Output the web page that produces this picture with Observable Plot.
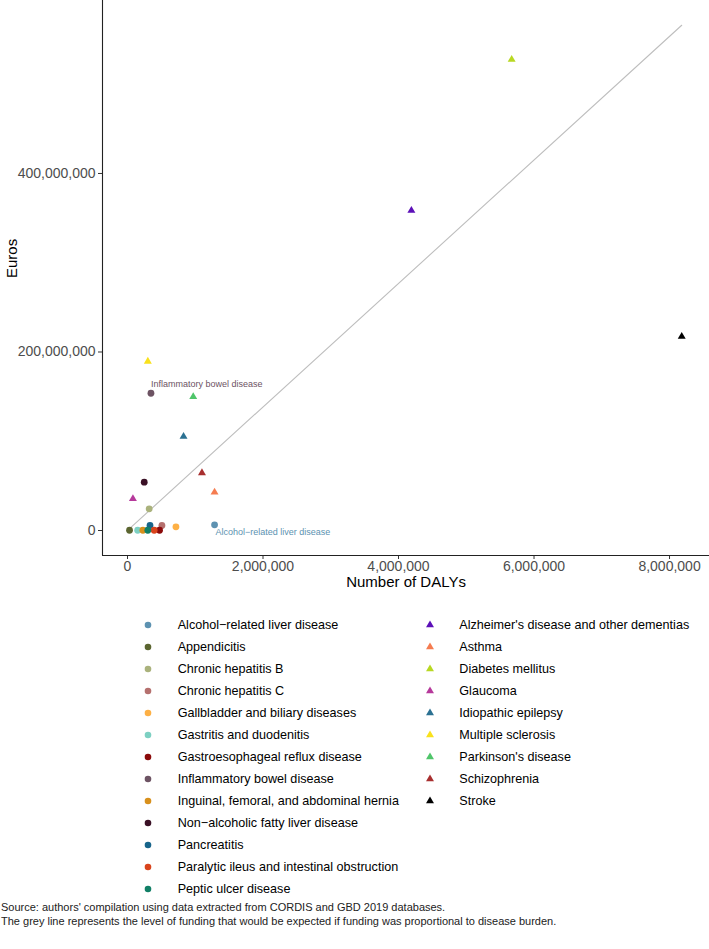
<!DOCTYPE html>
<html>
<head>
<meta charset="utf-8">
<script src="https://cdn.jsdelivr.net/npm/d3@7"></script>
<script src="https://cdn.jsdelivr.net/npm/@observablehq/plot@0.6"></script>
<style>
  html, body { margin: 0; padding: 0; background: #fff; }
  body { font-family: "Liberation Sans", Arial, sans-serif; }
  #wrap { position: relative; width: 709px; height: 949px; overflow: hidden; }
  #chart { position: absolute; left: 0; top: 0; }
  [aria-label="x-axis tick label"], [aria-label="y-axis tick label"] { fill: #4d4d4d; font-size: 14px; }
  [aria-label="x-axis tick"], [aria-label="y-axis tick"] { stroke: #333; }
  .lg-row { position: absolute; height: 22px; line-height: 22px; font-size: 12.6px; color: #000; white-space: nowrap; }
  .lg-sym { position: absolute; top: 0; }
  #caption { position: absolute; left: 1px; top: 900px; font-size: 11px; line-height: 14px; color: #222; white-space: nowrap; }
</style>
</head>
<body>
<div id="wrap">
  <div id="chart"></div>
  <div id="legend"></div>
  <div id="caption">Source: authors' compilation using data extracted from CORDIS and GBD 2019 databases.<br>The grey line represents the level of funding that would be expected if funding was proportional to disease burden.</div>
</div>
<script>
// ---- Data: diseases shown as circles ----
const circleNames = [
  "Alcohol\u2212related liver disease",
  "Appendicitis",
  "Chronic hepatitis B",
  "Chronic hepatitis C",
  "Gallbladder and biliary diseases",
  "Gastritis and duodenitis",
  "Gastroesophageal reflux disease",
  "Inflammatory bowel disease",
  "Inguinal, femoral, and abdominal hernia",
  "Non\u2212alcoholic fatty liver disease",
  "Pancreatitis",
  "Paralytic ileus and intestinal obstruction",
  "Peptic ulcer disease"
];
const circleColors = [
  "#5d92b1", "#5b6530", "#aab27c", "#b5706e", "#fdb045", "#7dd0c2", "#8b0a0a",
  "#6d5363", "#d8901c", "#3a1025", "#17648a", "#d9441c", "#117f66"
];
const circleDalys = [1285000, 30000, 320000, 508000, 715000, 150000, 473000, 346000, 227000, 247000, 332000, 394000, 300000];
const circleEuros = [6400000, 300000, 24300000, 5600000, 4100000, 300000, 300000, 153800000, 300000, 54100000, 5600000, 300000, 300000];

// ---- Data: diseases shown as triangles ----
const triangleNames = [
  "Alzheimer's disease and other dementias",
  "Asthma",
  "Diabetes mellitus",
  "Glaucoma",
  "Idiopathic epilepsy",
  "Multiple sclerosis",
  "Parkinson's disease",
  "Schizophrenia",
  "Stroke"
];
const triangleColors = ["#5c10b8", "#f57c50", "#b8d822", "#b6399b", "#2b7192", "#f9e11c", "#4fc56a", "#a82f2f", "#000000"];
const triangleDalys = [4190000, 1285000, 5670000, 80000, 827000, 300000, 970000, 1099000, 8180000];
const triangleEuros = [358500000, 42900000, 527700000, 35500000, 105300000, 189400000, 149800000, 64600000, 217400000];

// Expected funding per DALY (slope of the grey line)
const fundingPerDaly = 69.2;

// Labelled points
const labelledNames = ["Inflammatory bowel disease", "Alcohol\u2212related liver disease"];

// Axis ticks and domains
const xTicks = [0, 2000000, 4000000, 6000000, 8000000];
const yTicks = [0, 200000000, 400000000];
const xDomain = [-369000, 8590000];
const yDomain = [-28000000, 593800000];

// ---- Build tables ----
const circles = circleNames.map((name, i) => ({name, dalys: circleDalys[i], euros: circleEuros[i], color: circleColors[i]}));
const triangles = triangleNames.map((name, i) => ({name, dalys: triangleDalys[i], euros: triangleEuros[i], color: triangleColors[i]}));
const all = circles.concat(triangles);
const lineX = d3.extent(all, d => d.dalys);
const lineData = lineX.map(x => ({dalys: x, euros: x * fundingPerDaly}));
const fmt = d3.format(",");

const chart = Plot.plot({
  width: 709,
  height: 600,
  marginLeft: 102,
  marginRight: 0,
  marginTop: 0,
  marginBottom: 45,
  style: {fontFamily: "'Liberation Sans', Arial, sans-serif", fontSize: "14px", background: "white", overflow: "visible"},
  x: {domain: xDomain, axis: null},
  y: {domain: yDomain, axis: null},
  color: {domain: all.map(d => d.name), range: all.map(d => d.color)},
  marks: [
    Plot.axisX({ticks: xTicks, tickFormat: fmt, tickSize: 4, tickPadding: 1.5, label: null}),
    Plot.axisY({ticks: yTicks, tickFormat: fmt, tickSize: 4, tickPadding: 3, label: null}),
    Plot.ruleY([yDomain[0]], {stroke: "#222", strokeWidth: 1.1}),
    Plot.ruleX([xDomain[0]], {stroke: "#222", strokeWidth: 1.1}),
    Plot.line(lineData, {x: "dalys", y: "euros", stroke: "#bebebe", strokeWidth: 1.1}),
    Plot.dot(circles, {x: "dalys", y: "euros", fill: "name", r: 3.4, symbol: "circle"}),
    Plot.dot(triangles, {x: "dalys", y: "euros", fill: "name", r: 2.95, symbol: "triangle"}),
    Plot.text(circles.filter(d => d.name === labelledNames[0]), {x: "dalys", y: "euros", text: "name", fill: "color", textAnchor: "start", dx: 0, dy: -9.5, fontSize: 9}),
    Plot.text(circles.filter(d => d.name === labelledNames[1]), {x: "dalys", y: "euros", text: "name", fill: "color", textAnchor: "start", dx: 1, dy: 7, fontSize: 9}),
    Plot.text(["Number of DALYs"], {frameAnchor: "bottom", dy: 31, fontSize: 15, fill: "#000"}),
    Plot.text(["Euros"], {frameAnchor: "left", dx: -90, rotate: -90, fontSize: 15, fill: "#000"})
  ]
});
document.getElementById("chart").appendChild(chart);

// ---- Legend (two columns) ----
const legend = document.getElementById("legend");
function addColumn(items, symbolX, textX, firstY, shape) {
  items.forEach((d, i) => {
    const cy = firstY + 22 * i;
    const row = document.createElement("div");
    row.className = "lg-row";
    row.style.left = "0px";
    row.style.top = (cy - 11) + "px";
    row.style.width = "709px";
    const sym = d3.create("svg").attr("class", "lg-sym").attr("width", 12).attr("height", 22)
      .style("left", (symbolX - 6) + "px");
    if (shape === "circle") {
      sym.append("circle").attr("cx", 6).attr("cy", 11).attr("r", 3.3).attr("fill", d.color);
    } else {
      sym.append("path").attr("transform", "translate(6,11)")
        .attr("d", d3.symbol(d3.symbolTriangle, 2.95 * 2.95 * Math.PI)()).attr("fill", d.color);
    }
    row.appendChild(sym.node());
    const label = document.createElement("span");
    label.style.position = "absolute";
    label.style.left = textX + "px";
    label.textContent = d.name;
    row.appendChild(label);
    legend.appendChild(row);
  });
}
addColumn(circles, 148.3, 177.7, 625, "circle");
addColumn(triangles, 430, 459.3, 625, "triangle");
</script>
</body>
</html>
